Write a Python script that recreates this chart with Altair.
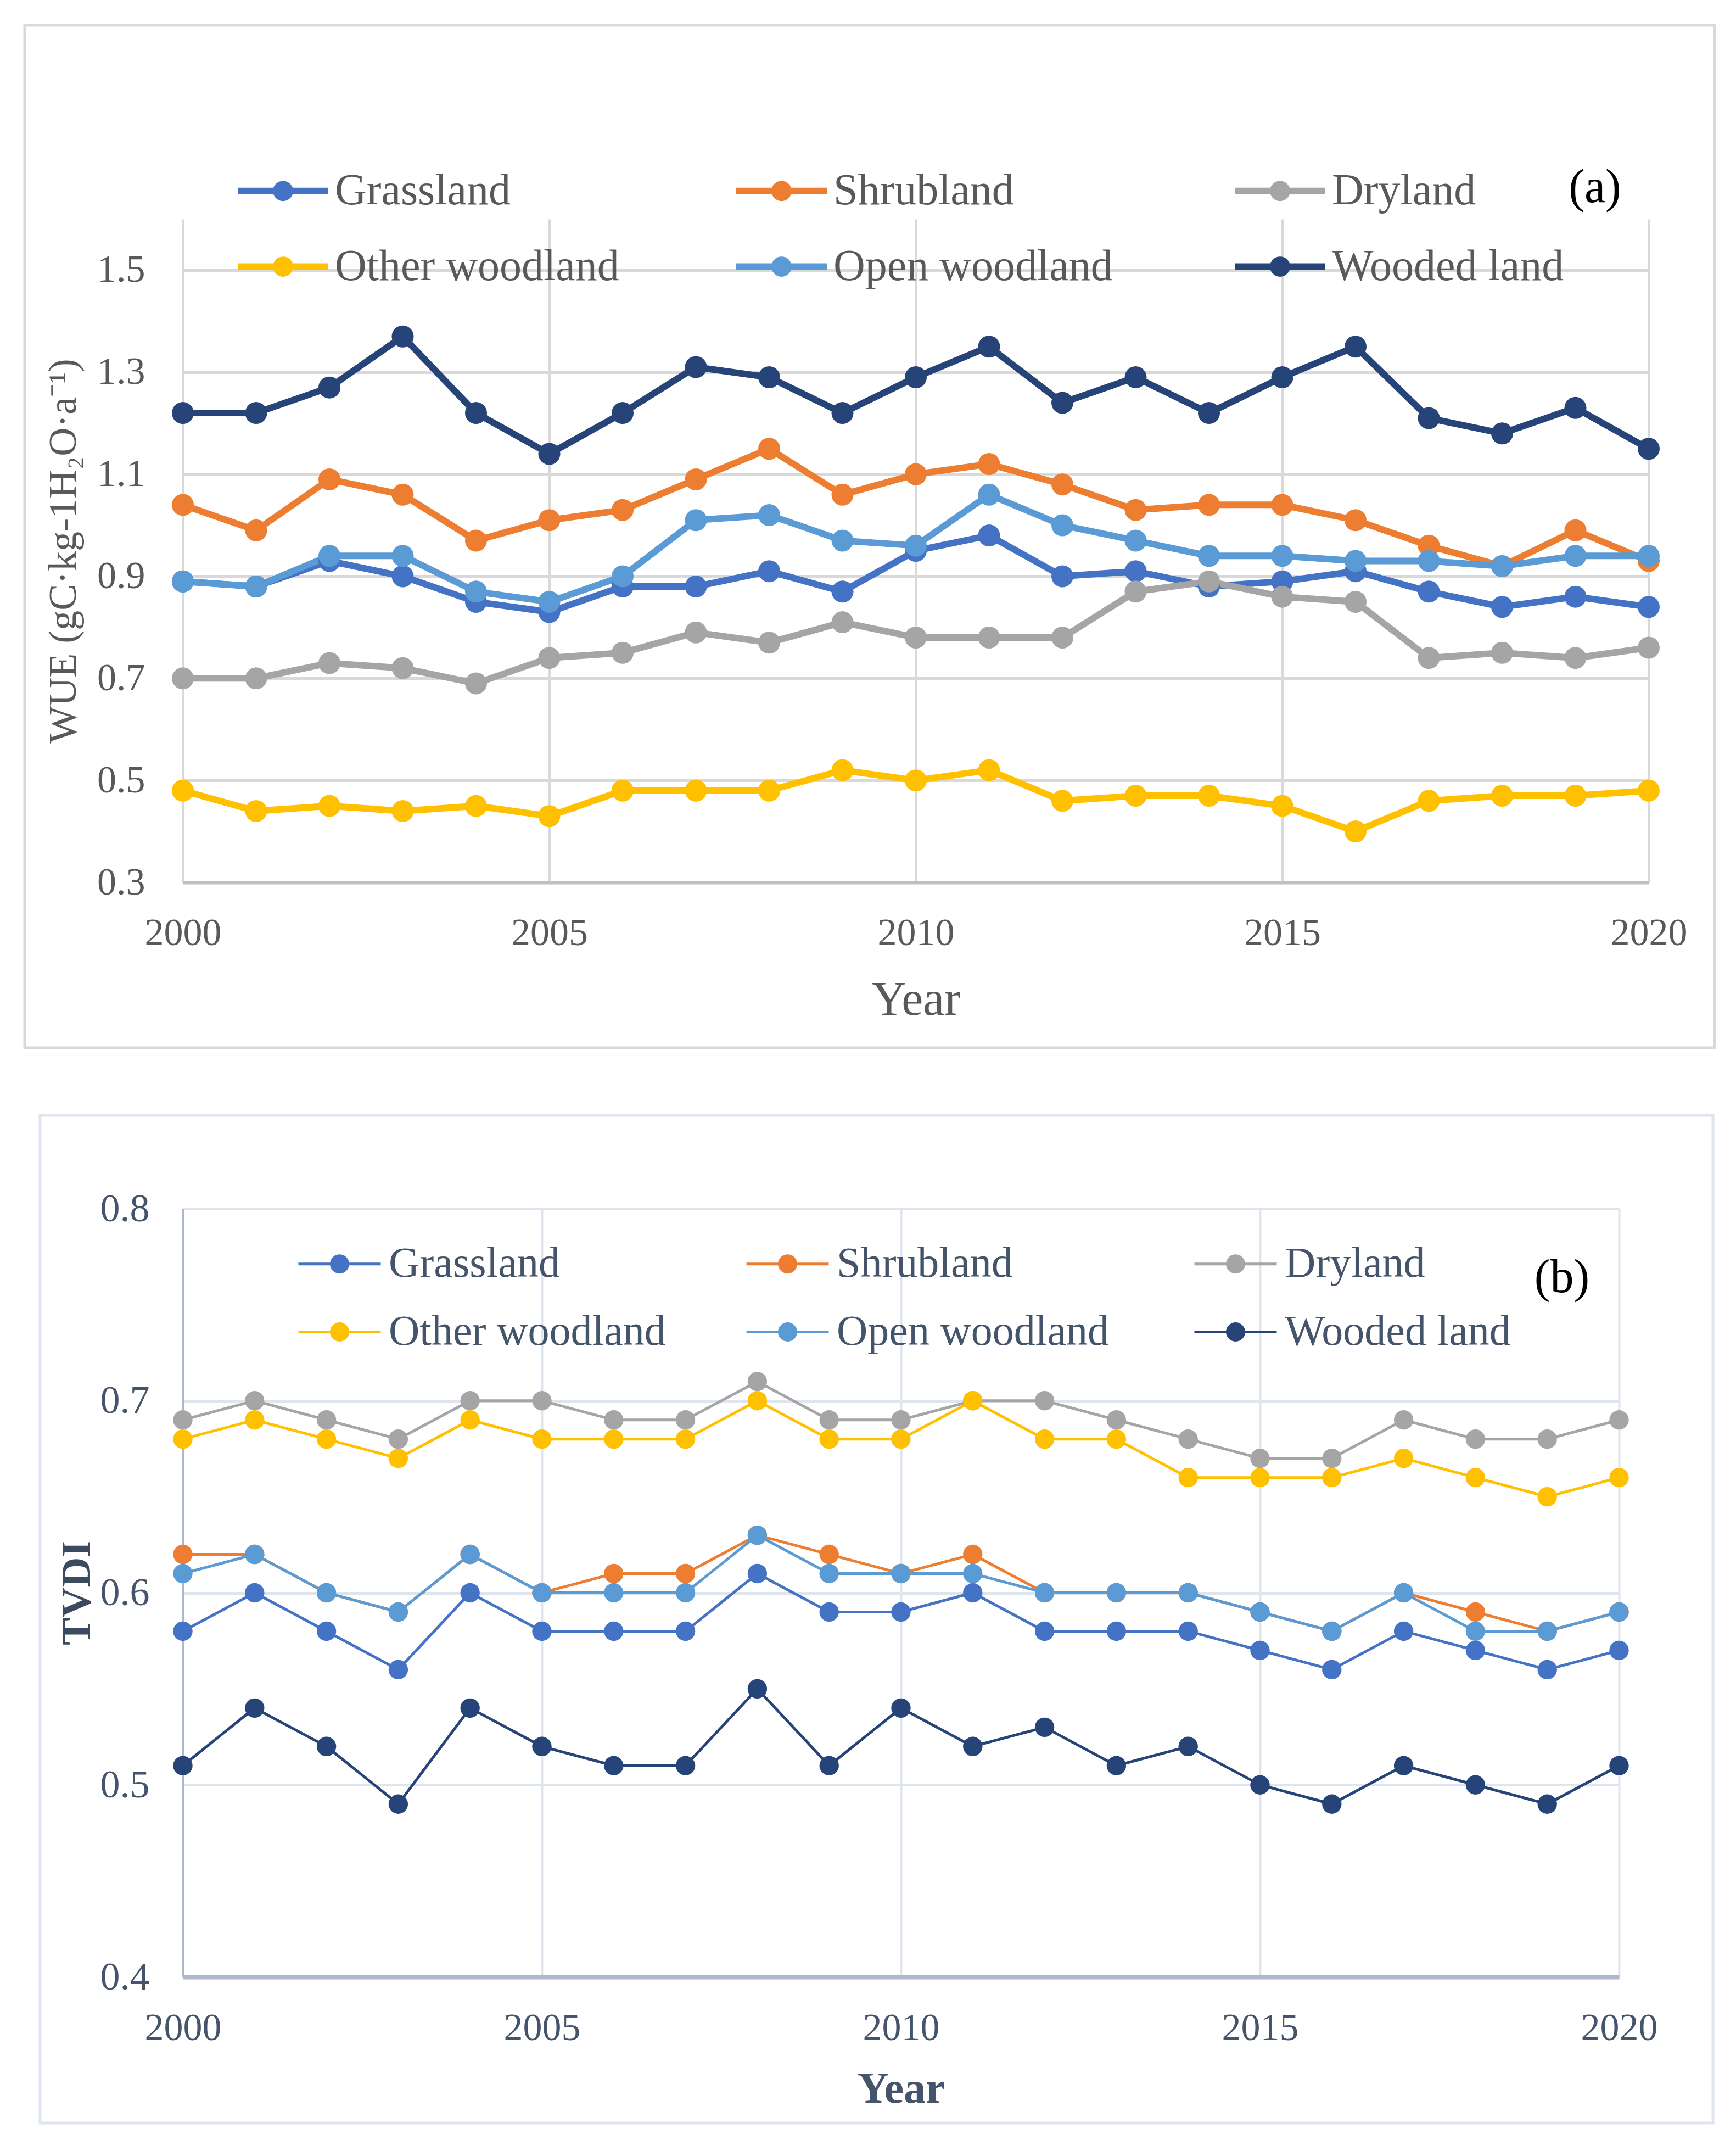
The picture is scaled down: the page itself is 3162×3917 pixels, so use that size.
import altair as alt
import pandas as pd

SERIF = "Liberation Serif"

years = list(range(2000, 2021))
categories = ["Grassland", "Shrubland", "Dryland", "Other woodland", "Open woodland", "Wooded land"]
colors = ["#4472C4", "#ED7D31", "#A5A5A5", "#FFC000", "#5B9BD5", "#264478"]

# ---- (a) WUE ----
wue_grassland = [0.89, 0.88, 0.93, 0.90, 0.85, 0.83, 0.88, 0.88, 0.91, 0.87, 0.95,
                 0.98, 0.90, 0.91, 0.88, 0.89, 0.91, 0.87, 0.84, 0.86, 0.84]
wue_shrubland = [1.04, 0.99, 1.09, 1.06, 0.97, 1.01, 1.03, 1.09, 1.15, 1.06, 1.10,
                 1.12, 1.08, 1.03, 1.04, 1.04, 1.01, 0.96, 0.92, 0.99, 0.93]
wue_dryland = [0.70, 0.70, 0.73, 0.72, 0.69, 0.74, 0.75, 0.79, 0.77, 0.81, 0.78,
               0.78, 0.78, 0.87, 0.89, 0.86, 0.85, 0.74, 0.75, 0.74, 0.76]
wue_other = [0.48, 0.44, 0.45, 0.44, 0.45, 0.43, 0.48, 0.48, 0.48, 0.52, 0.50,
             0.52, 0.46, 0.47, 0.47, 0.45, 0.40, 0.46, 0.47, 0.47, 0.48]
wue_open = [0.89, 0.88, 0.94, 0.94, 0.87, 0.85, 0.90, 1.01, 1.02, 0.97, 0.96,
            1.06, 1.00, 0.97, 0.94, 0.94, 0.93, 0.93, 0.92, 0.94, 0.94]
wue_wooded = [1.22, 1.22, 1.27, 1.37, 1.22, 1.14, 1.22, 1.31, 1.29, 1.22, 1.29,
              1.35, 1.24, 1.29, 1.22, 1.29, 1.35, 1.21, 1.18, 1.23, 1.15]

# ---- (b) TVDI ----
tvdi_grassland = [0.58, 0.60, 0.58, 0.56, 0.60, 0.58, 0.58, 0.58, 0.61, 0.59, 0.59,
                  0.60, 0.58, 0.58, 0.58, 0.57, 0.56, 0.58, 0.57, 0.56, 0.57]
tvdi_shrubland = [0.62, 0.62, 0.60, 0.59, 0.62, 0.60, 0.61, 0.61, 0.63, 0.62, 0.61,
                  0.62, 0.60, 0.60, 0.60, 0.59, 0.58, 0.60, 0.59, 0.58, 0.59]
tvdi_dryland = [0.69, 0.70, 0.69, 0.68, 0.70, 0.70, 0.69, 0.69, 0.71, 0.69, 0.69,
                0.70, 0.70, 0.69, 0.68, 0.67, 0.67, 0.69, 0.68, 0.68, 0.69]
tvdi_other = [0.68, 0.69, 0.68, 0.67, 0.69, 0.68, 0.68, 0.68, 0.70, 0.68, 0.68,
              0.70, 0.68, 0.68, 0.66, 0.66, 0.66, 0.67, 0.66, 0.65, 0.66]
tvdi_open = [0.61, 0.62, 0.60, 0.59, 0.62, 0.60, 0.60, 0.60, 0.63, 0.61, 0.61,
             0.61, 0.60, 0.60, 0.60, 0.59, 0.58, 0.60, 0.58, 0.58, 0.59]
tvdi_wooded = [0.51, 0.54, 0.52, 0.49, 0.54, 0.52, 0.51, 0.51, 0.55, 0.51, 0.54,
               0.52, 0.53, 0.51, 0.52, 0.50, 0.49, 0.51, 0.50, 0.49, 0.51]

x_ticks = [2000, 2005, 2010, 2015, 2020]
wue_ticks = [0.3, 0.5, 0.7, 0.9, 1.1, 1.3, 1.5]
tvdi_ticks = [0.4, 0.5, 0.6, 0.7, 0.8]


def to_long(series_lists):
    rows = []
    for cat, vals in zip(categories, series_lists):
        for yr, v in zip(years, vals):
            rows.append({"Year": yr, "Type": cat, "Value": v})
    return pd.DataFrame(rows)


df_a = to_long([wue_grassland, wue_shrubland, wue_dryland, wue_other, wue_open, wue_wooded])
df_b = to_long([tvdi_grassland, tvdi_shrubland, tvdi_dryland, tvdi_other, tvdi_open, tvdi_wooded])

color_scale = alt.Scale(domain=categories, range=colors)

# ================= Panel (a) =================
W_A, H_A = 2670, 1208
GRAY_TXT = "#595959"

PATH_A = "M-1,0L1,0M0.15,0A0.15,0.15,0,1,1,-0.15,0A0.15,0.15,0,1,1,0.15,0Z"
leg_a = alt.Legend(orient="none", legendX=94, legendY=-140, columns=3, direction="horizontal",
                   symbolType=PATH_A, symbolSize=165 * 165, symbolStrokeWidth=12,
                   labelFont=SERIF, labelFontSize=80, labelColor=GRAY_TXT, labelOffset=6,
                   labelLimit=2000, columnPadding=189, rowPadding=9, gridAlign="all")

x_a = alt.X("Year:Q", scale=alt.Scale(domain=[2000, 2020], nice=False, zero=False),
            axis=alt.Axis(values=x_ticks, format="d", title="Year", ticks=False,
                          labelFont=SERIF, labelFontSize=70, labelColor=GRAY_TXT,
                          labelPadding=58, labelFlush=False,
                          domainColor="#BFBFBF", domainWidth=6,
                          gridColor="#D9D9D9", gridWidth=5,
                          titleFont=SERIF, titleFontSize=88, titleColor=GRAY_TXT,
                          titleFontWeight="normal", titleY=214, titleBaseline="middle"))
y_a = alt.Y("Value:Q", scale=alt.Scale(domain=[0.3, 1.6], nice=False, zero=False),
            axis=alt.Axis(values=wue_ticks, format=".1f", title="WUE (gC·kg-1H₂O·a⁻¹)",
                          ticks=False, domain=False,
                          labelFont=SERIF, labelFontSize=70, labelColor=GRAY_TXT,
                          labelPadding=69, labelFlush=False,
                          gridColor="#D9D9D9", gridWidth=5,
                          titleFont=SERIF, titleFontSize=72, titleColor=GRAY_TXT,
                          titleFontWeight="normal", titleX=-218, titleY=H_A / 2,
                          titleBaseline="middle"))

base_a = alt.Chart(df_a).encode(
    x=x_a, y=y_a,
    color=alt.Color("Type:N", scale=color_scale, title=None, legend=leg_a),
    detail="Type:N",
)
lines_a = base_a.mark_line(strokeWidth=12)
pts_a = base_a.mark_point(filled=True, size=1600, opacity=1)

frame_a = alt.Chart(pd.DataFrame({"k": [0]})).mark_rect(
    fill="transparent", stroke="#D9D9D9", strokeWidth=5
).encode(x=alt.value(-288), x2=alt.value(2790), y=alt.value(-353), y2=alt.value(1509))

label_a = alt.Chart(pd.DataFrame({"t": ["(a)"]})).mark_text(
    font=SERIF, fontSize=86, color="#000000", align="center", baseline="middle"
).encode(text="t:N", x=alt.value(2572), y=alt.value(-57))

panel_a = alt.layer(frame_a, lines_a, pts_a, label_a).properties(width=W_A, height=H_A)

# ================= Panel (b) =================
W_B, H_B = 2616, 1399
BLUE_TXT = "#44546A"

PATH_B = "M-1,0L1,0M0.2,0A0.2,0.2,0,1,1,-0.2,0A0.2,0.2,0,1,1,0.2,0Z"
leg_b = alt.Legend(orient="none", legendX=208, legendY=23, columns=3, direction="horizontal",
                   symbolType=PATH_B, symbolSize=150 * 150, symbolStrokeWidth=5,
                   labelFont=SERIF, labelFontSize=78, labelColor=BLUE_TXT, labelOffset=12,
                   labelLimit=2000, columnPadding=136, rowPadding=7, gridAlign="all")

x_b = alt.X("Year:Q", scale=alt.Scale(domain=[2000, 2020], nice=False, zero=False),
            axis=alt.Axis(values=x_ticks, format="d", title="Year", ticks=False,
                          labelFont=SERIF, labelFontSize=70, labelColor=BLUE_TXT,
                          labelPadding=59, labelFlush=False,
                          domainColor="#ADB9CA", domainWidth=8,
                          gridColor="#DEE5EE", gridWidth=4,
                          titleFont=SERIF, titleFontSize=80, titleColor=BLUE_TXT,
                          titleFontWeight="bold", titleY=204, titleBaseline="middle"))
y_b = alt.Y("Value:Q", scale=alt.Scale(domain=[0.4, 0.8], nice=False, zero=False),
            axis=alt.Axis(values=tvdi_ticks, format=".1f", title="TVDI", ticks=False,
                          domainColor="#ADB9CA", domainWidth=5,
                          labelFont=SERIF, labelFontSize=72, labelColor=BLUE_TXT,
                          labelPadding=61, labelFlush=False,
                          gridColor="#DEE5EE", gridWidth=5,
                          titleFont=SERIF, titleFontSize=76, titleColor="#3B4A5E",
                          titleFontWeight="bold", titleX=-193, titleY=H_B / 2,
                          titleBaseline="middle"))

base_b = alt.Chart(df_b).encode(
    x=x_b, y=y_b,
    color=alt.Color("Type:N", scale=color_scale, title=None, legend=leg_b),
    detail="Type:N",
)
lines_b = base_b.mark_line(strokeWidth=5)
pts_b = base_b.mark_point(filled=True, size=1250, opacity=1)

frame_b = alt.Chart(pd.DataFrame({"k": [0]})).mark_rect(
    fill="transparent", stroke="#DEE5EE", strokeWidth=5
).encode(x=alt.value(-260), x2=alt.value(2787), y=alt.value(-170), y2=alt.value(1665))

label_b = alt.Chart(pd.DataFrame({"t": ["(b)"]})).mark_text(
    font=SERIF, fontSize=86, color="#000000", align="center", baseline="middle"
).encode(text="t:N", x=alt.value(2512), y=alt.value(126))

panel_b = alt.layer(frame_b, lines_b, pts_b, label_b).properties(width=W_B, height=H_B)

chart = alt.vconcat(panel_a, panel_b, spacing=117).resolve_scale(
    color="independent"
).resolve_legend(color="independent").properties(
    padding={"left": 34, "top": 35, "right": 5, "bottom": 5}
).configure_view(strokeWidth=0)

chart.save("out.html", embed_options={"renderer": "svg", "actions": False})
